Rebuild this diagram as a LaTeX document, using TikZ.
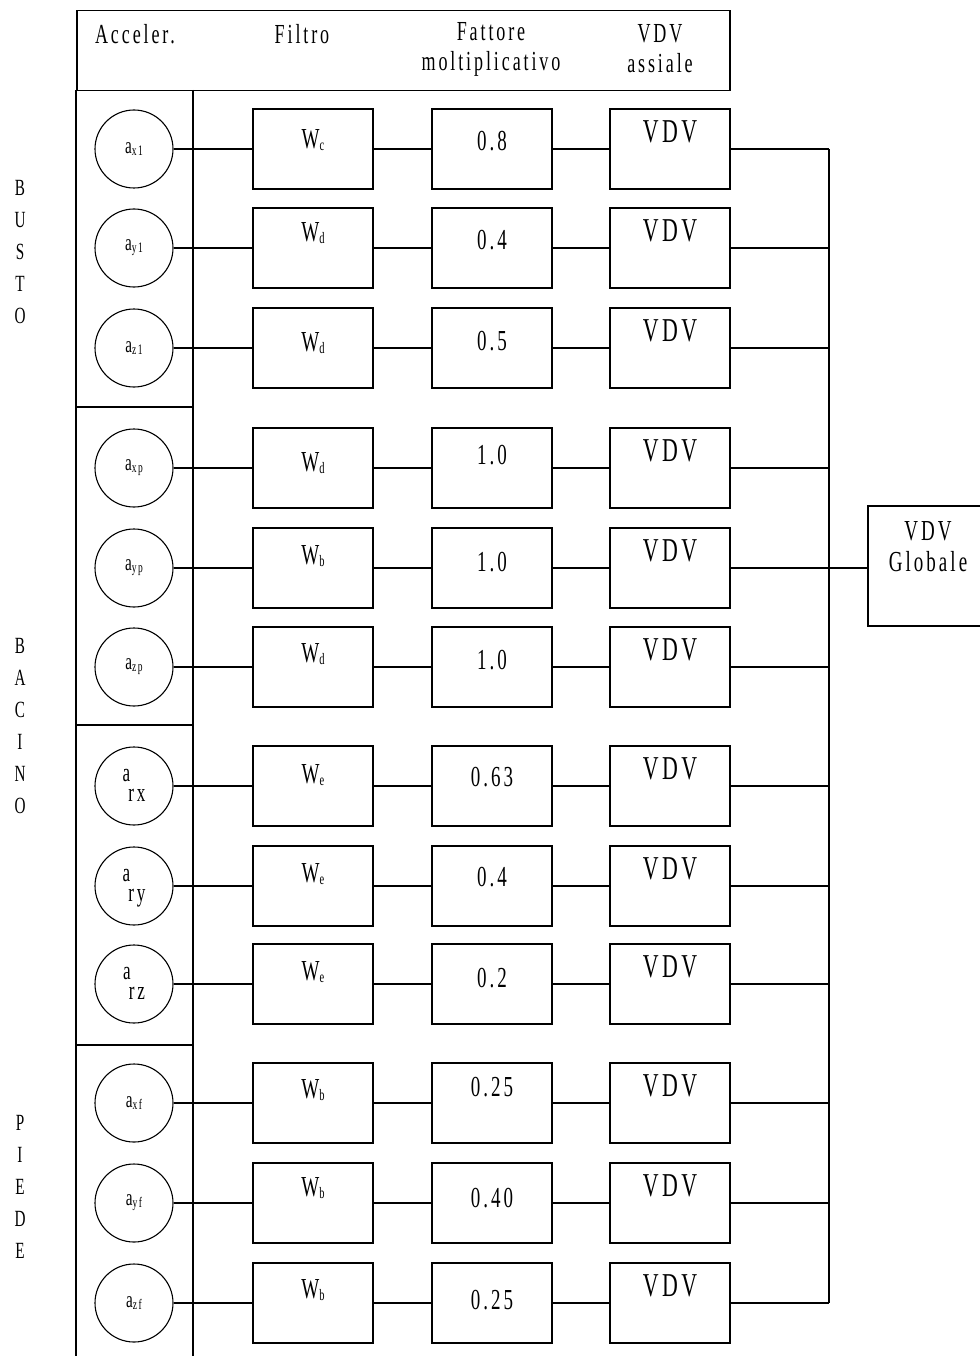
\documentclass[tikz,border=0pt]{standalone}
\usepackage{fontspec}
\setmainfont{Liberation Serif}[LetterSpace=16]
\usepackage{graphicx}
\newcommand{\tx}[1]{\scalebox{0.95}[1.45]{#1}}
\newcommand{\asub}[1]{\tx{\fontsize{16}{16}\selectfont a\raisebox{-1.5pt}{\fontsize{10}{10}\selectfont #1}}}
\newcommand{\arot}[1]{\tx{\fontsize{18}{18}\selectfont\begin{tabular}{@{}l@{}}a\\[-4pt]\hspace{6pt}#1\end{tabular}}}
\newcommand{\Wf}[1]{\tx{W\raisebox{-1.5pt}{\fontsize{11}{11}\selectfont #1}}}
\begin{document}
\begin{tikzpicture}[x=1pt,y=-1pt,line width=1.5pt,
  acc/.style={circle,draw,line width=1.1pt,minimum size=78pt,inner sep=0pt},
  blk/.style={draw,minimum width=120pt,minimum height=80pt,inner sep=0pt},
  lbl/.style={font=\fontsize{19}{22}\selectfont},
  wl/.style={font=\fontsize{20}{22}\selectfont},
  nl/.style={font=\fontsize{20}{22}\selectfont},
  vl/.style={font=\fontsize{23}{24}\selectfont},
  side/.style={font=\fontsize{16}{32}\selectfont,align=center,inner sep=0pt}]
\useasboundingbox (0,0) rectangle (979,1356);
% header
\node[draw,minimum width=653pt,minimum height=80pt,inner sep=0pt,anchor=north west] (hdr) at (76,10) {};
\node[lbl] (h1) at (135,34) {\tx{Acceler.}};
\node[lbl] (h2) at (302,34) {\tx{Filtro}};
\node[lbl,align=center,font=\fontsize{19}{30}\selectfont] (h3) at (491,49) {\tx{Fattore}\\\tx{moltiplicativo}};
\node[lbl,align=center,font=\fontsize{19}{30}\selectfont] (h4) at (660,49) {\tx{VDV}\\\tx{assiale}};
% left column
\draw (76,90) -- (76,1356);
\draw (193,90) -- (193,1356);
\foreach \yy in {407,725,1045} \draw (76,\yy) -- (193,\yy);
% side labels
\node[side] (s1) at (20,252) {\tx{B}\\\tx{U}\\\tx{S}\\\tx{T}\\\tx{O}};
\node[side] (s2) at (20,726) {\tx{B}\\\tx{A}\\\tx{C}\\\tx{I}\\\tx{N}\\\tx{O}};
\node[side] (s3) at (20,1187) {\tx{P}\\\tx{I}\\\tx{E}\\\tx{D}\\\tx{E}};
% rows
\foreach \i/\y/\lab/\f/\k/\wo/\ko in {
  1/149/{\asub{x1}}/c/0.8/9/8,
  2/248/{\asub{y1}}/d/0.4/15/8,
  3/348/{\asub{z1}}/d/0.5/5/7,
  4/468/{\asub{xp}}/d/1.0/5/13,
  5/568/{\asub{yp}}/b/1.0/12/6,
  6/667/{\asub{zp}}/d/1.0/13/7,
  7/786/{\arot{rx}}/e/0.63/11/9,
  8/886/{\arot{ry}}/e/0.4/12/9,
  9/984/{\arot{rz}}/e/0.2/12/6,
  10/1103/{\asub{xf}}/b/0.25/13/16,
  11/1203/{\asub{yf}}/b/0.40/15/5,
  12/1303/{\asub{zf}}/b/0.25/13/3}{
  \node[acc] (c\i) at (134,\y) {\lab};
  \node[blk,label={[wl,anchor=center,yshift=\wo pt]center:\Wf{\f}}] (f\i) at (313,\y) {};
  \node[blk,label={[nl,anchor=center,yshift=\ko pt]center:\tx{\k}}] (m\i) at (492,\y) {};
  \node[blk,label={[vl,anchor=center,yshift=17pt]center:\tx{VDV}}] (v\i) at (670,\y) {};
  \coordinate (b\i) at (829,\y);
  \draw (c\i) -- (f\i);
  \draw (f\i) -- (m\i);
  \draw (m\i) -- (v\i);
  \draw (v\i.east) -- (b\i);
}
\draw (b1) -- (b12);
% global
\node[blk,minimum height=120pt] (g) at (928,566) {};
\node[lbl,align=center,font=\fontsize{20}{31}\selectfont] (gt) at (928,547) {\tx{VDV}\\\tx{Globale}};
\draw (b5) -- (b5 -| g.west);
\end{tikzpicture}
\end{document}
